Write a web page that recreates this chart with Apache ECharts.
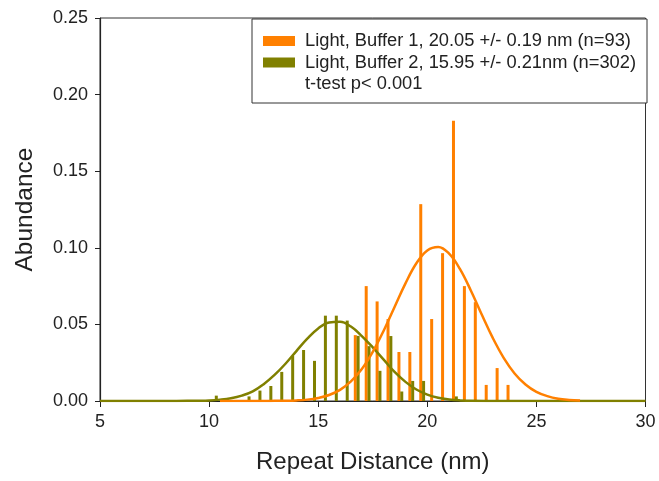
<!DOCTYPE html>
<html><head><meta charset="utf-8">
<script src="https://cdn.jsdelivr.net/npm/echarts@6/dist/echarts.min.js"></script>
<style>html,body{margin:0;padding:0;background:#fff}#c{width:659px;height:481px}</style>
</head><body><div id="c"></div>
<script>
// ---- data ----
const seriesNames = ['Light, Buffer 1, 20.05 +/- 0.19 nm (n=93)', 'Light, Buffer 2, 15.95 +/- 0.21nm (n=302)'];
const noteText = 't-test p< 0.001';
const xTicks = [5, 10, 15, 20, 25, 30];
const yTicks = [0.00, 0.05, 0.10, 0.15, 0.20, 0.25];

const orangeBarX = [16.70, 17.20, 17.70, 18.20, 18.70, 19.20, 19.70, 20.20, 20.70, 21.20, 21.70, 22.20, 22.70, 23.20, 23.70];
const orangeBarY = [0.043, 0.075, 0.065, 0.0535, 0.032, 0.032, 0.1285, 0.0535, 0.0965, 0.183, 0.075, 0.0645, 0.0105, 0.0215, 0.0105];

const greenBarX = [10.33, 11.83, 12.33, 12.83, 13.33, 13.83, 14.33, 14.83, 15.33, 15.83, 16.33, 16.83, 17.33, 17.83, 18.33, 18.83, 19.33, 19.83, 21.33];
const greenBarY = [0.0035, 0.003, 0.0068, 0.0098, 0.019, 0.0294, 0.0333, 0.0262, 0.0557, 0.0557, 0.0525, 0.0425, 0.0358, 0.0197, 0.0424, 0.0062, 0.0131, 0.0131, 0.003];

const orangeCurveX = [10.5, 11, 11.5, 12, 12.5, 13, 13.5, 14, 14.5, 15, 15.5, 16, 16.5, 17, 17.5, 18, 18.5, 19, 19.5, 20, 20.5, 21, 21.5, 22, 22.5, 23, 23.5, 24, 24.5, 25, 25.5, 26, 26.5, 27];
const orangeCurveY = [0, 0, 0, 0, 0, 0.0001, 0.0002, 0.0004, 0.0009, 0.0020, 0.0039, 0.0073, 0.0128, 0.0209, 0.0321, 0.0459, 0.0614, 0.0768, 0.0899, 0.0983, 0.1006, 0.0962, 0.0861, 0.0720, 0.0563, 0.0412, 0.0282, 0.0180, 0.0108, 0.0060, 0.0032, 0.0015, 0.0007, 0.0003];

const greenCurveX = [5, 8, 9, 9.5, 10, 10.5, 11, 11.5, 12, 12.5, 13, 13.5, 14, 14.5, 15, 15.5, 16, 16.5, 17, 17.5, 18, 18.5, 19, 19.5, 20, 20.5, 21, 21.5, 22, 23, 30];
const greenCurveY = [0, 0, 0.0001, 0.0002, 0.0004, 0.0009, 0.0018, 0.0035, 0.0063, 0.011, 0.017, 0.0243, 0.0326, 0.0407, 0.0474, 0.0513, 0.0517, 0.0486, 0.0424, 0.035, 0.027, 0.019, 0.0125, 0.0075, 0.0042, 0.0021, 0.001, 0.0004, 0.0001, 0, 0];

// ---- styles ----
const ORANGE = '#FF8000';
const OLIVE = '#808000';
const FONT = 'Liberation Sans, Arial, sans-serif';
const TXT = '#222';
const LEG_FONT = '18.3px ' + FONT;

const zip = (xs, ys) => xs.map((x, i) => [x, ys[i]]);

const chart = echarts.init(document.getElementById('c'), null, {renderer: 'canvas'});
chart.setOption({
  animation: false,
  backgroundColor: '#fff',
  grid: {left: 100, right: 13.5, top: 18, bottom: 80, show: true, borderColor: '#333', borderWidth: 1, backgroundColor: 'transparent'},
  xAxis: {
    type: 'value', min: xTicks[0], max: xTicks[xTicks.length - 1], interval: 5,
    name: 'Repeat Distance (nm)', nameLocation: 'middle', nameGap: 49,
    nameTextStyle: {fontFamily: FONT, fontSize: 24, color: TXT},
    axisLine: {lineStyle: {color: '#222', width: 1.2}},
    axisTick: {show: true, inside: false, length: 6, lineStyle: {color: '#222'}},
    axisLabel: {fontFamily: FONT, fontSize: 18, color: TXT, margin: 12},
    splitLine: {show: false}
  },
  yAxis: {
    type: 'value', min: yTicks[0], max: yTicks[yTicks.length - 1], interval: 0.05,
    name: 'Abundance', nameLocation: 'middle', nameGap: 62,
    nameTextStyle: {fontFamily: FONT, fontSize: 24.5, color: TXT},
    axisLine: {show: true, lineStyle: {color: '#222', width: 1.2}},
    axisTick: {show: true, inside: false, length: 5, lineStyle: {color: '#222'}},
    axisLabel: {fontFamily: FONT, fontSize: 18, color: TXT, margin: 12, formatter: v => v.toFixed(2)},
    splitLine: {show: false}
  },
  series: [
    {name: seriesNames[0], type: 'bar', data: zip(orangeBarX, orangeBarY), barWidth: 3, barGap: '-100%', itemStyle: {color: ORANGE}, z: 2},
    {name: seriesNames[1], type: 'bar', data: zip(greenBarX, greenBarY), barWidth: 3, barGap: '-100%', itemStyle: {color: OLIVE}, z: 2},
    {name: 'fit2', type: 'line', data: zip(greenCurveX, greenCurveY), smooth: 0.4, showSymbol: false, symbol: 'none', lineStyle: {color: OLIVE, width: 2.5}, z: 3},
    {name: 'fit1', type: 'line', data: zip(orangeCurveX, orangeCurveY), smooth: 0.4, showSymbol: false, symbol: 'none', lineStyle: {color: ORANGE, width: 2.5}, z: 4}
  ],
  graphic: [
    {type: 'rect', z: 100, shape: {x: 252, y: 19, width: 395, height: 84}, style: {fill: '#fff', stroke: '#333', lineWidth: 1}},
    {type: 'rect', z: 101, shape: {x: 263, y: 36, width: 32, height: 10}, style: {fill: ORANGE}},
    {type: 'rect', z: 101, shape: {x: 263, y: 57.5, width: 32, height: 10}, style: {fill: OLIVE}},
    {type: 'text', z: 101, x: 305, y: 41, style: {text: seriesNames[0], font: LEG_FONT, fill: TXT, verticalAlign: 'middle'}},
    {type: 'text', z: 101, x: 305, y: 62.5, style: {text: seriesNames[1], font: LEG_FONT, fill: TXT, verticalAlign: 'middle'}},
    {type: 'text', z: 101, x: 305, y: 83.5, style: {text: noteText, font: LEG_FONT, fill: TXT, verticalAlign: 'middle'}}
  ]
});
</script>
</body></html>
